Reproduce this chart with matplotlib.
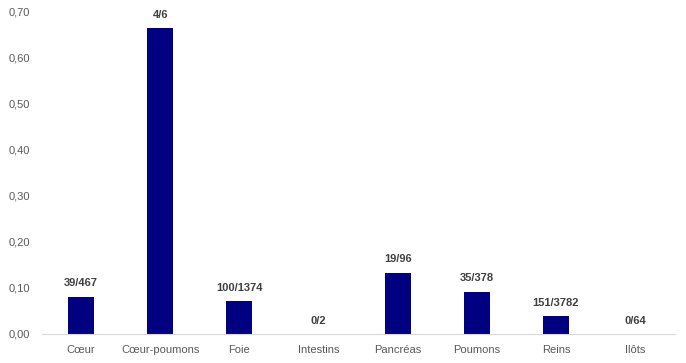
import matplotlib.pyplot as plt

organes = ['Cœur', 'Cœur-poumons', 'Foie', 'Intestins', 'Pancréas', 'Poumons', 'Reins', 'Ilôts']
taux = [0.081, 0.665, 0.072, 0.0, 0.133, 0.092, 0.038, 0.0]
etiquettes = ['39/467', '4/6', '100/1374', '0/2', '19/96', '35/378', '151/3782', '0/64']

plt.rcParams['font.family'] = ['Liberation Sans', 'DejaVu Sans']

fig = plt.figure(figsize=(6.86, 3.63), dpi=100)
ax = fig.add_axes([0.0605, 0.08, 0.923, 0.887])

x = range(len(organes))
bars = ax.bar(x, taux, width=0.33, color='#000080')

for i, (v, lab) in enumerate(zip(taux, etiquettes)):
    ax.annotate(lab, (i, v), xytext=(0, 6), textcoords='offset points',
                ha='center', va='bottom', fontsize=8, fontweight='bold', color='#404040')

ax.set_xlim(-0.5, len(organes) - 0.5)
ax.set_ylim(0, 0.70)
ax.set_yticks([i / 10 for i in range(8)])
ax.set_yticklabels([f'{i / 10:.2f}'.replace('.', ',') for i in range(8)])
ax.set_xticks(list(x))
ax.set_xticklabels(organes)
ax.tick_params(axis='both', length=0, labelsize=8, colors='#595959', pad=8)
ax.tick_params(axis='y', pad=8)

for s in ['top', 'right', 'left']:
    ax.spines[s].set_visible(False)
ax.spines['bottom'].set_color('#d9d9d9')

plt.savefig('out.png')
